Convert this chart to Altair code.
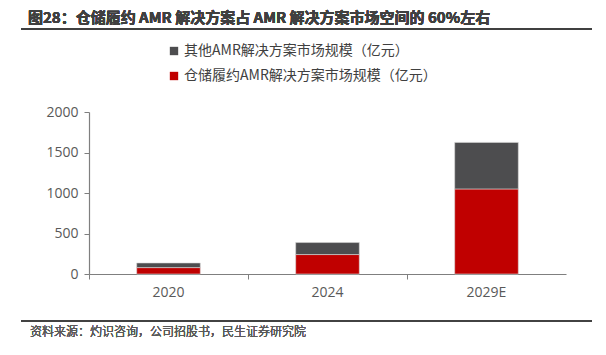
import altair as alt
import pandas as pd

years = ["2020", "2024", "2029E"]
series_names = ["其他AMR解决方案市场规模（亿元）", "仓储履约AMR解决方案市场规模（亿元）"]
warehouse = [79, 240, 1050]
other = [57, 148, 575]
colors = ["#4D4D4F", "#C00000"]
title_text = "图28：仓储履约 AMR 解决方案占 AMR 解决方案市场空间的 60%左右"
source_text = "资料来源：灼识咨询，公司招股书，民生证券研究院"

rows = []
for i, y in enumerate(years):
    rows.append({"year": y, "series": series_names[1], "value": warehouse[i], "ord": 0})
    rows.append({"year": y, "series": series_names[0], "value": other[i], "ord": 1})
df = pd.DataFrame(rows)

FONT = "Noto Sans CJK SC"
W, H = 477, 162
L, T = 81, 104

bars = alt.Chart(df).mark_bar(width=alt.RelativeBandSize(0.4), stroke="#D9D9D9", strokeWidth=0.6).encode(
    x=alt.X("year:N", sort=years, title=None,
            scale=alt.Scale(paddingInner=0, paddingOuter=0),
            axis=alt.Axis(bandPosition=0, labelAngle=0, domainColor="#7F7F7F",
                          tickColor="#7F7F7F", tickSize=5, labelColor="#595959", labelFontSize=14,
                          labelFont="Open Sans", labelPadding=6, domainWidth=1.2)),
    y=alt.Y("value:Q", stack="zero", title=None,
            scale=alt.Scale(domain=[0, 2000], nice=False),
            axis=alt.Axis(values=[0, 500, 1000, 1500, 2000], format="d", grid=False, domainColor="#7F7F7F",
                          tickColor="#7F7F7F", tickSize=5, labelColor="#595959", labelFontSize=14,
                          labelFont="Open Sans", labelPadding=6, domainWidth=1.2)),
    color=alt.Color("series:N", scale=alt.Scale(domain=series_names, range=colors),
                    legend=alt.Legend(title=None, orient="none", legendX=78, legendY=-68,
                                      direction="vertical", symbolType="square", symbolSize=70,
                                      symbolStrokeWidth=0, labelFontSize=14, labelFont=FONT,
                                      labelColor="#404040", rowPadding=11, labelOffset=3,
                                      labelLimit=0)),
    order=alt.Order("ord:Q"),
)

title = alt.Chart(df).mark_text(align="left", baseline="middle", fontSize=15, fontWeight="bold",
                                font=FONT, color="#404040").encode(
    x=alt.value(28 - 8 - L), y=alt.value(18 - 8 - T), text=alt.value(title_text))
title_line = alt.Chart(df).mark_rule(color="#404040", strokeWidth=1.5).encode(
    x=alt.value(21 - 8 - L), x2=alt.value(592 - 8 - L), y=alt.value(29 - 8 - T))
foot_line = alt.Chart(df).mark_rule(color="#404040", strokeWidth=1.2).encode(
    x=alt.value(21 - 8 - L), x2=alt.value(592 - 8 - L), y=alt.value(321 - 8 - T))
foot = alt.Chart(df).mark_text(align="left", baseline="middle", fontSize=12, fontWeight=300,
                               font=FONT, color="#595959").encode(
    x=alt.value(30 - 8 - L), y=alt.value(332 - 8 - T), text=alt.value(source_text))

chart = alt.layer(bars, title, title_line, foot_line, foot).properties(
    width=W, height=H, autosize=alt.AutoSizeParams(type="none"),
    padding={"left": L, "top": T, "right": 30, "bottom": 68},
).configure_view(stroke=None)

chart.save("out.html", embed_options={"renderer": "svg", "actions": False})
